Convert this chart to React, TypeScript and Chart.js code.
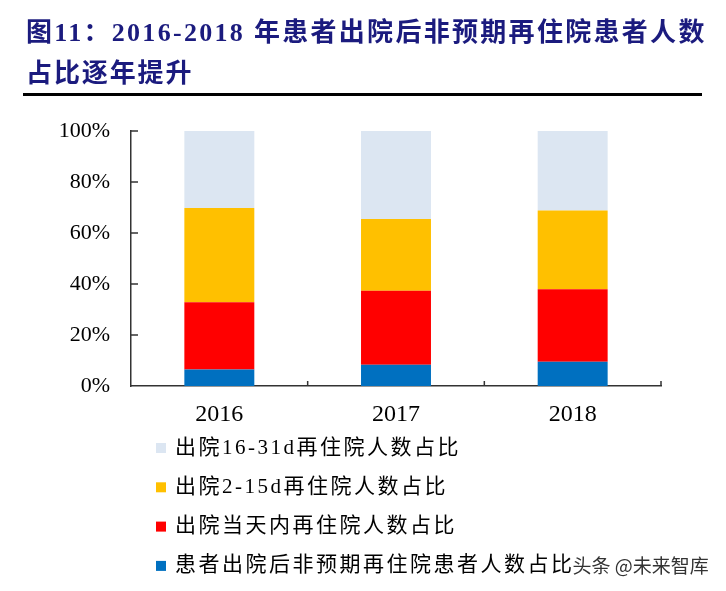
import React, { useEffect, useRef } from 'react';
import { Chart, registerables } from 'chart.js';

Chart.register(...registerables);

const categories = ['2016', '2017', '2018'];
const seriesNames = [
  '患者出院后非预期再住院患者人数占比',
  '出院当天内再住院人数占比',
  '出院2-15d再住院人数占比',
  '出院16-31d再住院人数占比',
];
const unplannedShare = [6.5, 8.3, 9.5];
const sameDayShare = [26.3, 29.1, 28.4];
const day2to15Share = [37.0, 28.1, 30.9];
const day16to31Share = [30.2, 34.5, 31.2];
const seriesColors = ['#0070C0', '#FF0000', '#FFC000', '#DCE6F2'];
const yTicks = [0, 20, 40, 60, 80, 100];
const titleLines = ['图11：2016-2018 年患者出院后非预期再住院患者人数', '占比逐年提升'];
const watermark = '头条 @未来智库';

const SERIF = '"Liberation Serif", "Noto Sans CJK SC", serif';

const innerTicks = {
  id: 'innerTicks',
  afterDraw(chart: any) {
    const ctx = chart.ctx;
    const { x, y } = chart.scales;
    const area = chart.chartArea;
    ctx.save();
    ctx.strokeStyle = '#333';
    ctx.lineWidth = 1.5;
    ctx.beginPath();
    yTicks.forEach((v) => {
      if (v === 0) return;
      const py = y.getPixelForValue(v);
      ctx.moveTo(area.left, py);
      ctx.lineTo(area.left + 7, py);
    });
    const step = categories.length > 1 ? x.getPixelForValue(1) - x.getPixelForValue(0) : area.right - area.left;
    categories.forEach((_, i) => {
      const px = x.getPixelForValue(i) + step / 2;
      ctx.moveTo(px, area.bottom);
      ctx.lineTo(px, area.bottom - 5);
    });
    ctx.stroke();
    ctx.restore();
  },
};

const listLegend = {
  id: 'listLegend',
  afterDraw(chart: any) {
    const ctx = chart.ctx;
    const area = chart.chartArea;
    const ds = chart.data.datasets.slice().reverse();
    ctx.save();
    ds.forEach((d: any, i: number) => {
      const cy = area.bottom + 62 + i * 39.3;
      ctx.fillStyle = d.backgroundColor;
      ctx.fillRect(156, cy - 5, 10, 10);
      ctx.fillStyle = '#000';
      ctx.font = '21px ' + SERIF;
      (ctx as any).letterSpacing = '2.5px';
      ctx.textBaseline = 'middle';
      ctx.textAlign = 'left';
      ctx.fillText(d.label, 175, cy);
      if (i === ds.length - 1) {
        const w = ctx.measureText(d.label).width;
        (ctx as any).letterSpacing = '0px';
        ctx.font = '19px "Noto Sans CJK SC", sans-serif';
        ctx.fillStyle = '#333';
        ctx.fillText(watermark, 175 + w - 2, cy);
      }
    });
    ctx.restore();
  },
};

export default function App() {
  const ref = useRef<HTMLCanvasElement>(null);

  useEffect(() => {
    if (!ref.current) return;
    const values = [unplannedShare, sameDayShare, day2to15Share, day16to31Share];
    const chart = new Chart(ref.current, {
      type: 'bar',
      data: {
        labels: categories,
        datasets: values.map((arr, i) => ({
          label: seriesNames[i],
          data: arr,
          backgroundColor: seriesColors[i],
          borderWidth: 0,
          barPercentage: 0.396,
          categoryPercentage: 1,
        })),
      },
      options: {
        responsive: false,
        animation: false,
        devicePixelRatio: 1,
        layout: { padding: { left: 0, right: 65, top: 131, bottom: 165 } },
        plugins: {
          legend: { display: false },
          tooltip: { enabled: false },
          title: { display: false },
        },
        scales: {
          x: {
            stacked: true,
            grid: { display: false, drawTicks: false },
            border: { display: true, color: '#333', width: 1.5 },
            ticks: { color: '#000', font: { family: SERIF, size: 24 }, padding: 14 },
            afterFit: (s: any) => {
              s.height = 40;
            },
          },
          y: {
            stacked: true,
            min: 0,
            max: 100,
            grid: { display: false, drawTicks: false },
            border: { display: true, color: '#333', width: 1.5 },
            ticks: {
              stepSize: 20,
              color: '#000',
              font: { family: SERIF, size: 22 },
              padding: 21,
              callback: (v: any) => v + '%',
            },
            afterFit: (s: any) => {
              s.width = 131;
            },
          },
        },
      },
      plugins: [innerTicks, listLegend],
    });
    return () => chart.destroy();
  }, []);

  return (
    <div style={{ position: 'absolute', left: 0, top: 0, width: 726, height: 591, background: '#fff', overflow: 'hidden' }}>
      <canvas ref={ref} width={726} height={591} style={{ position: 'absolute', left: 0, top: 0, width: 726, height: 591 }} />
      <div
        style={{
          position: 'absolute',
          left: 26,
          top: 12,
          color: '#1B1B7E',
          fontFamily: SERIF,
          fontWeight: 'bold',
          fontSize: 26,
          lineHeight: '41px',
          whiteSpace: 'nowrap',
        }}
      >
        {titleLines.map((t, i) => (
          <div key={t} style={{ letterSpacing: i === 0 ? '2.3px' : '1.9px' }}>
            {t}
          </div>
        ))}
      </div>
      <div style={{ position: 'absolute', left: 23, top: 93, width: 679, height: 3, background: '#000' }} />
    </div>
  );
}
